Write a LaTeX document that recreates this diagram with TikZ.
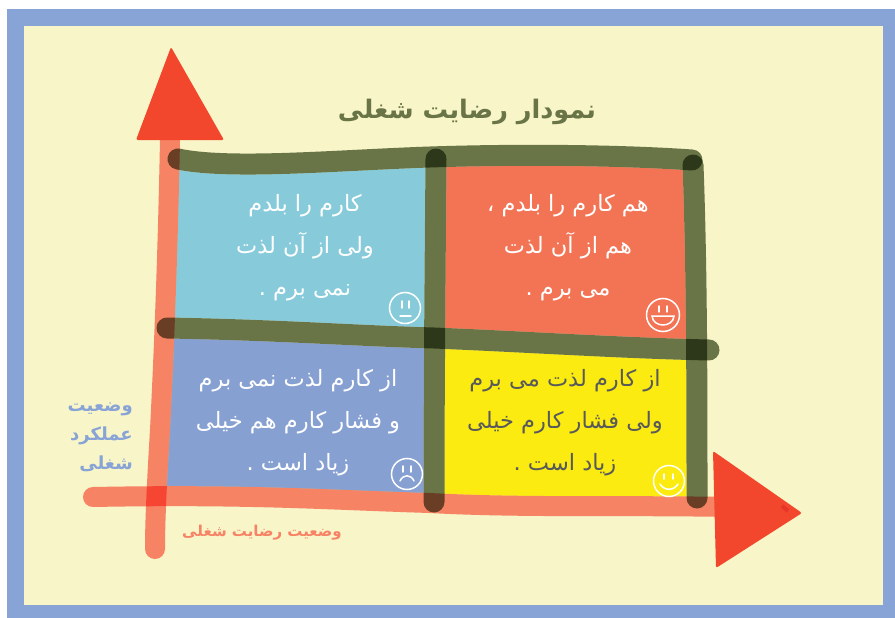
\documentclass[tikz,border=0pt]{standalone}
\usepackage{fontspec}
\usepackage{xcolor}
\usetikzlibrary{calc}
\TeXXeTstate=1
\newfontfamily\arabicfont[Script=Arabic]{DejaVu Sans}
\definecolor{framecol}{HTML}{88A3D6}
\definecolor{papercol}{HTML}{F8F5C8}
\definecolor{greenink}{HTML}{6D7A5B}
\definecolor{titlecol}{HTML}{6A7547}
\definecolor{salmonink}{HTML}{FE8982}
\definecolor{salmontxt}{HTML}{F78366}
\definecolor{arrowcol}{HTML}{F2472D}
\definecolor{skycol}{HTML}{87CBDB}
\definecolor{coralcol}{HTML}{F37455}
\definecolor{bluecol}{HTML}{86A0D2}
\definecolor{yellowcol}{HTML}{FBEB10}
\definecolor{greytxt}{HTML}{58595B}
\definecolor{speckcol}{HTML}{E8352A}
\tikzset{
	gstroke/.style={draw=greenink,line width=21pt,line cap=round,blend mode=multiply},
	sstroke/.style={draw=salmonink,line width=20pt,line cap=round,blend mode=multiply},
	gerase/.style={draw=papercol,line width=21pt,line cap=round},
	serase/.style={draw=papercol,line width=20pt,line cap=round},
	head/.style={fill=arrowcol,rounded corners=2pt},
	cell/.style={align=center,inner sep=0pt,font=\arabicfont\fontsize{22.5}{42}\selectfont},
	boldtxt/.style={inner sep=0pt,font=\arabicfont\bfseries\fontsize{18}{29}\selectfont},
	face/.style={circle,draw=white,line width=1.5pt,fill=none,inner sep=0pt,minimum size=31pt},
	feat/.style={draw=white,line width=1.5pt,line cap=round}}
\begin{document}
\begin{tikzpicture}[x=1pt,y=-1pt]
	\useasboundingbox (0,0) rectangle (895,618);
	\fill [framecol] (7,9) rectangle (895,618);
	\fill [papercol] (24,26) rectangle (883,605);
	% grid points on the strokes
	\coordinate (A1) at (172,162);
	\coordinate (A2) at (436,159);
	\coordinate (A3) at (694,163);
	\coordinate (B1) at (166,330);
	\coordinate (B2) at (434,338);
	\coordinate (B3) at (697,349);
	\coordinate (C1) at (157,497);
	\coordinate (C2) at (434,504);
	\coordinate (C3) at (697,507);
	% panels
	\fill [skycol] (A1) -- (A2) -- (B2) -- (B1) -- cycle;
	\fill [coralcol] (A2) -- (A3) -- (B3) -- (B2) -- cycle;
	\fill [bluecol] (B1) -- (B2) -- (C2) -- (C1) -- cycle;
	\fill [yellowcol] (B2) -- (B3) -- (C3) -- (C2) -- cycle;
	% strokes
	\coordinate (vS) at (170,140);
	\coordinate (vE) at (155,549);
	\coordinate (hS) at (93,497);
	\coordinate (hE) at (730,507);
	\coordinate (t1) at (178,159);
	\coordinate (t2) at (692,160);
	\coordinate (m1) at (167,328);
	\coordinate (m2) at (709,350);
	\coordinate (l1) at (436,159);
	\coordinate (l2) at (434,502);
	\coordinate (r1) at (693,165);
	\coordinate (r2) at (697,498);
	\draw [serase] (hS) .. controls (250,494) and (330,500) .. (430,503) .. controls (520,508) and (620,505) .. (hE);
	\draw [serase] (vS) .. controls (168,240) and (165,330) .. (160,430) .. controls (157,480) and (155,520) .. (vE);
	\draw [gerase] (t1) .. controls (230,170) and (340,160) .. (430,157) .. controls (520,154) and (620,155) .. (t2);
	\draw [gerase] (m1) .. controls (280,330) and (360,336) .. (434,338) .. controls (530,342) and (620,348) .. (m2);
	\draw [gerase] (l1) .. controls (435,280) and (434,400) .. (l2);
	\draw [gerase] (r1) .. controls (697,270) and (697,400) .. (r2);
	\draw [sstroke] (hS) .. controls (250,494) and (330,500) .. (430,503) .. controls (520,508) and (620,505) .. (hE);
	\draw [sstroke] (vS) .. controls (168,240) and (165,330) .. (160,430) .. controls (157,480) and (155,520) .. (vE);
	\draw [gstroke] (t1) .. controls (230,170) and (340,160) .. (430,157) .. controls (520,154) and (620,155) .. (t2);
	\draw [gstroke] (m1) .. controls (280,330) and (360,336) .. (434,338) .. controls (530,342) and (620,348) .. (m2);
	\draw [gstroke] (l1) .. controls (435,280) and (434,400) .. (l2);
	\draw [gstroke] (r1) .. controls (697,270) and (697,400) .. (r2);
	% arrow heads
	\fill [head] (171,47) -- (224,140) -- (136,140) -- cycle;
	\fill [head] (713,451) -- (802,513) -- (716,568) -- cycle;
	\coordinate (sp1) at (782,506);
	\coordinate (sp2) at (788,511);
	\draw [speckcol,line width=4pt] (sp1) -- (sp2);
	% texts
	\node (title) at (467,112) [inner sep=0pt,text=titlecol,font=\arabicfont\bfseries\fontsize{25.5}{32}\selectfont] {\beginR نمودار رضایت شغلی\endR};
	\node (tl) at (305,248) [cell,text=white] {\beginR کارم را بلدم\endR\\\beginR ولی از آن لذت\endR\\\beginR نمی برم .\endR};
	\node (tr) at (568,248) [cell,text=white] {\beginR هم کارم را بلدم ،\endR\\\beginR هم از آن لذت\endR\\\beginR می برم .\endR};
	\node (bl) at (298,423) [cell,text=white] {\beginR از کارم لذت نمی برم\endR\\\beginR و فشار کارم هم خیلی\endR\\\beginR زیاد است .\endR};
	\node (br) at (565,423) [cell,text=greytxt] {\beginR از کارم لذت می برم\endR\\\beginR ولی فشار کارم خیلی\endR\\\beginR زیاد است .\endR};
	\node (ylab) [boldtxt,align=right,text=framecol,anchor=east] at (133,437) {\beginR وضعیت\endR\\\beginR عملکرد\endR\\\beginR شغلی\endR};
	\node (xlab) at (262,533) [inner sep=0pt,text=salmontxt,font=\arabicfont\bfseries\fontsize{15}{20}\selectfont] {\beginR وضعیت رضایت شغلی\endR};
	% faces
	\node (f1) at (405,308) [face] {};
	\draw [feat] ($(f1)+(-3,-7)$) -- ($(f1)+(-3,0)$);
	\draw [feat] ($(f1)+(4,-7)$) -- ($(f1)+(4,0)$);
	\draw [feat] ($(f1)+(-5,8)$) -- ($(f1)+(6,8)$);
	\node (f2) at (663,315) [face,minimum size=33pt] {};
	\draw [feat] ($(f2)+(-4,-9)$) -- ($(f2)+(-4,-3)$);
	\draw [feat] ($(f2)+(4,-9)$) -- ($(f2)+(4,-3)$);
	\draw [feat] ($(f2)+(-11,1)$) -- ($(f2)+(11,1)$) .. controls ($(f2)+(10,13)$) and ($(f2)+(-10,13)$) .. cycle;
	\node (f3) at (407,474) [face] {};
	\draw [feat] ($(f3)+(-4,-8)$) -- ($(f3)+(-4,-2)$);
	\draw [feat] ($(f3)+(4,-8)$) -- ($(f3)+(4,-2)$);
	\draw [feat] ($(f3)+(-7,7)$) .. controls ($(f3)+(-4,0)$) and ($(f3)+(4,0)$) .. ($(f3)+(7,7)$);
	\node (f4) at (669,481) [face] {};
	\draw [feat] ($(f4)+(-5,-7)$) -- ($(f4)+(-5,-2)$);
	\draw [feat] ($(f4)+(4,-7)$) -- ($(f4)+(4,-2)$);
	\draw [feat] ($(f4)+(-9,3)$) .. controls ($(f4)+(-5,10)$) and ($(f4)+(5,10)$) .. ($(f4)+(9,3)$);
\end{tikzpicture}
\end{document}
